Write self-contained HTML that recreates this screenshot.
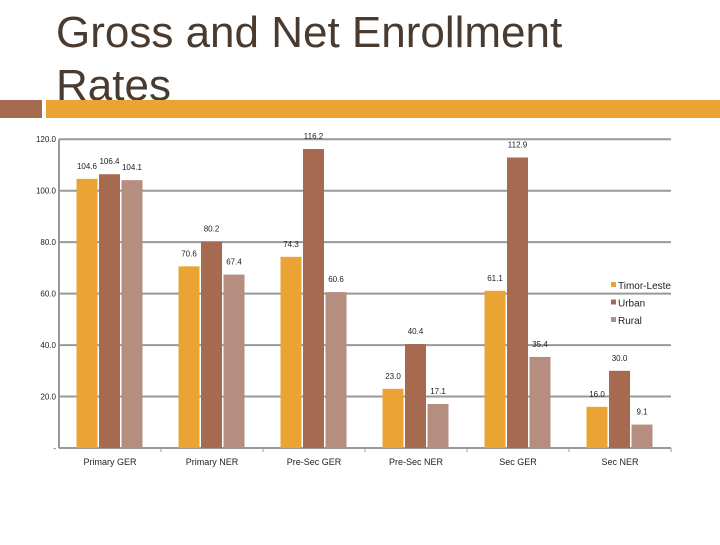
<!DOCTYPE html>
<html><head><meta charset="utf-8"><style>
body{margin:0;background:#fff;width:720px;height:540px;overflow:hidden;font-family:"Liberation Sans",sans-serif}
</style></head><body>
<svg width="720" height="540" id="c">
<text x="56" y="47" font-size="44" fill="#4a3b30">Gross and Net Enrollment</text>
<text x="56" y="100" font-size="44" fill="#4a3b30">Rates</text>
<rect x="0" y="100" width="42" height="18" fill="#a66a50"/>
<rect x="46" y="100" width="674" height="18" fill="#eba433"/>
<g id="grid"></g><g id="bars"></g><g id="legend"></g>
</svg>
<script>
const categories=["Primary GER","Primary NER","Pre-Sec GER","Pre-Sec NER","Sec GER","Sec NER"];
const seriesNames=["Timor-Leste","Urban","Rural"];
const timorLeste=[104.6,70.6,74.3,23.0,61.1,16.0];
const urban=[106.4,80.2,116.2,40.4,112.9,30.0];
const rural=[104.1,67.4,60.6,17.1,35.4,9.1];
const yTicks=[0,20,40,60,80,100,120];
const colors=["#eba433","#a66a50","#b58e80"];
const NS="http://www.w3.org/2000/svg";
const L=59,R=671,Y0=448,PX=2.573;
const y=v=>Y0-v*PX;
const gw=(R-L)/categories.length;
const xg=i=>L+gw*i;
function mk(t,a,p){const e=document.createElementNS(NS,t);for(const k in a)e.setAttribute(k,a[k]);p.appendChild(e);return e;}
const grid=document.getElementById('grid'),bars=document.getElementById('bars'),leg=document.getElementById('legend');
yTicks.forEach(t=>{
 if(t>0){const l=mk('line',{x1:L,x2:R,y1:y(t),y2:y(t),stroke:'#999','stroke-width':2},grid);
 
 }
 const tx=mk('text',{x:56,y:y(t)+3,'font-size':8,'text-anchor':'end',fill:'#222'},grid);
 tx.textContent=t===0?'-':t.toFixed(1);
 
 
});
const ax=mk('line',{x1:L,x2:L,y1:y(120),y2:Y0,stroke:'#999','stroke-width':2},grid);


const bx=mk('line',{x1:L,x2:R,y1:Y0,y2:Y0,stroke:'#999','stroke-width':2},grid);


const series=[timorLeste,urban,rural];
categories.forEach((c,i)=>{
 const cx=xg(i)+gw/2;
 series.forEach((s,j)=>{
  const x=cx-33.5+j*22.5, v=s[i];
  const r=mk('rect',{x:x,y:y(v),width:21,height:Y0-y(v),fill:colors[j]},bars);
  
  
  const t=mk('text',{x:x+10.5,y:y(v)-10,'font-size':8,'text-anchor':'middle',fill:'#222'},bars);
  t.textContent=v.toFixed(1);
  
  
 });
 const tk=mk('line',{x1:xg(i+1),x2:xg(i+1),y1:Y0,y2:Y0+4,stroke:'#999'},grid);
 
 
 const ct=mk('text',{x:cx,y:465,'font-size':9,'text-anchor':'middle',fill:'#222'},bars);
 ct.textContent=c;
 
 
});
seriesNames.forEach((n,j)=>{
 const yy=286+j*17.5;
 const r=mk('rect',{x:611,y:yy-4,width:5,height:5,fill:colors[j]},leg);
 
 
 const t=mk('text',{x:618,y:yy+3,'font-size':10,fill:'#222'},leg);
 t.textContent=n;
 
 
});
</script>
</body></html>
